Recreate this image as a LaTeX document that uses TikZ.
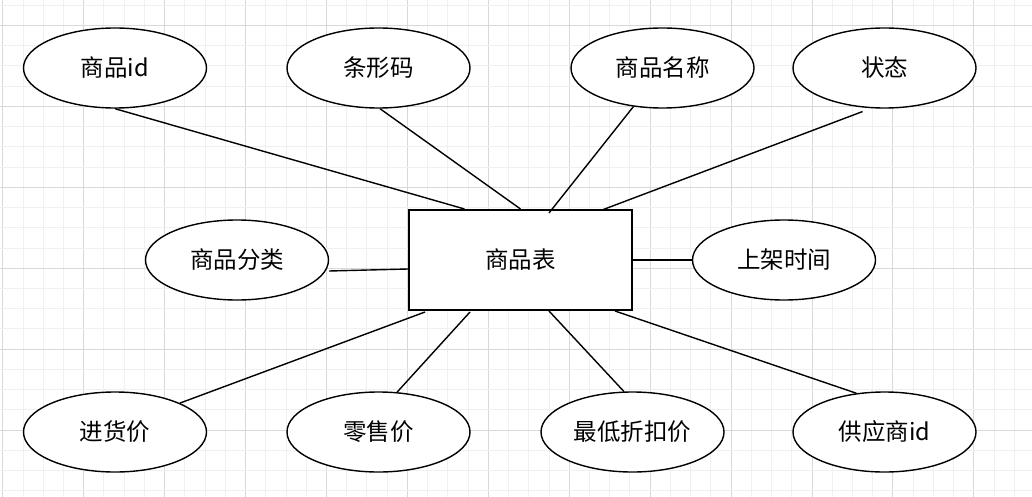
\documentclass[tikz,border=0pt]{standalone}
\usepackage{fontspec}
\setmainfont{Noto Sans CJK SC}
\usetikzlibrary{shapes.geometric}
\begin{document}
\begin{tikzpicture}[x=1pt,y=-1pt,
  attr/.style={ellipse,draw,line width=1.4pt,fill=white,minimum width=183pt,minimum height=80pt,inner sep=0pt,font=\fontsize{23.5}{26}\selectfont},
  ent/.style={rectangle,draw,line width=2pt,fill=white,minimum width=223pt,minimum height=100pt,inner sep=0pt,font=\fontsize{23.5}{26}\selectfont},
  link/.style={line width=1.4pt},
  minorline/.style={draw=black!6,line width=0.8pt},
  majorline/.style={draw=black!15,line width=0.8pt}]
\fill[white] (0,0) rectangle (1032,497);
\useasboundingbox (0,0) rectangle (1032,497);
% grid
\foreach \k in {0,...,51} {
  \pgfmathsetmacro{\xx}{2.7+20.23*\k}
  \pgfmathtruncatemacro{\m}{mod(\k,4)}
  \ifnum\m=0 \draw[majorline] (\xx,0) -- (\xx,497);
  \else \draw[minorline] (\xx,0) -- (\xx,497); \fi
}
\foreach \k in {0,...,24} {
  \pgfmathsetmacro{\yy}{5.2+20.23*\k}
  \pgfmathtruncatemacro{\m}{mod(\k,4)}
  \ifnum\m=1 \draw[majorline] (0,\yy) -- (1032,\yy);
  \else \draw[minorline] (0,\yy) -- (1032,\yy); \fi
}
% nodes
\node[ent]  (tbl) at (520.5,260) {商品表};
\node[attr] (pid) at (115,68)  {商品id};
\node[attr] (txm) at (378.5,68)  {条形码};
\node[attr] (mc)  at (662.5,68)  {商品名称};
\node[attr] (zt)  at (884.5,68)  {状态};
\node[attr] (fl)  at (237,260) {商品分类};
\node[attr] (sj)  at (784,260) {上架时间};
\node[attr] (jhj) at (115,432) {进货价};
\node[attr] (lsj) at (378.5,432) {零售价};
\node[attr] (zdj) at (632.5,432) {最低折扣价};
\node[attr] (gys) at (884.5,432) {供应商id};
% connectors
\draw[link] (pid.south) -- ([xshift=-56pt]tbl.north);
\draw[link] ([xshift=1.5pt]txm.south) -- (tbl.north);
\draw[link] (mc.-127) -- ([xshift=28.5pt,yshift=-4pt]tbl.north);
\draw[link] ([yshift=-4pt]zt.-119) -- ([xshift=81.5pt,yshift=-1pt]tbl.north);
\draw[link] ([yshift=-11pt]fl.east) -- ([yshift=-9pt]tbl.west);
\draw[link] (tbl.east) -- (sj.west);
\draw[link] (jhj.24) -- ([xshift=-95.5pt,yshift=-1pt]tbl.south);
\draw[link] (lsj.65) -- ([xshift=-50.5pt,yshift=-1pt]tbl.south);
\draw[link] (zdj.102) -- ([xshift=28.5pt]tbl.south);
\draw[link] (gys.126) -- ([xshift=94.5pt]tbl.south);
\end{tikzpicture}
\end{document}
